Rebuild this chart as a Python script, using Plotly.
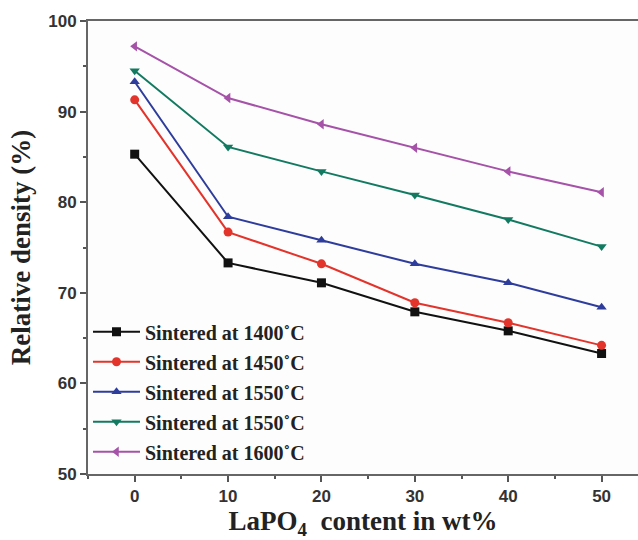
import plotly.graph_objects as go

x_content = [0, 10, 20, 30, 40, 50]
d1400 = [85.3, 73.3, 71.1, 67.9, 65.8, 63.3]
d1450 = [91.3, 76.7, 73.2, 68.9, 66.7, 64.2]
d1550a = [93.3, 78.4, 75.8, 73.2, 71.1, 68.4]
d1550b = [94.5, 86.1, 83.4, 80.8, 78.1, 75.1]
d1600 = [97.2, 91.5, 88.6, 86.0, 83.4, 81.1]

names = ["Sintered at 1400˚C", "Sintered at 1450˚C", "Sintered at 1550˚C",
         "Sintered at 1550˚C", "Sintered at 1600˚C"]
series = [d1400, d1450, d1550a, d1550b, d1600]
colors = ["#111111", "#e3342b", "#2e3d9c", "#127a60", "#a552a8"]
symbols = ["square", "circle", "triangle-up", "triangle-down", "triangle-left"]

fig = go.Figure()
for i, (n, s, c, m) in enumerate(zip(names, series, colors, symbols)):
    fig.add_trace(go.Scatter(
        x=x_content, y=s, name=n, mode="lines+markers",
        legendgroup=f"g{i}",
        line=dict(color=c, width=2),
        marker=dict(symbol=m, size=9, color=c),
    ))

axis_font = dict(family="Liberation Sans, Arial", size=17, color="#333333", weight="bold")
title_font = dict(family="Liberation Serif, Times New Roman", size=27, color="#222222", weight="bold")

fig.update_layout(
    width=638, height=540,
    margin=dict(l=88, r=0, t=21, b=66),
    paper_bgcolor="white", plot_bgcolor="#fdfdfd",
    showlegend=True,
    legend=dict(
        x=0.0, y=0.357, xanchor="left", yanchor="top",
        bgcolor="rgba(0,0,0,0)", borderwidth=0,
        font=dict(family="Liberation Serif, Times New Roman", size=20, color="#222222", weight="bold"),
        tracegroupgap=1, itemwidth=47,
    ),
    xaxis=dict(
        range=[-5, 53.9], tickvals=x_content, ticks="outside", ticklen=6, tickwidth=1.5,
        tickcolor="#555555", showline=True, linecolor="#666666", linewidth=2, mirror=True,
        showgrid=False, zeroline=False, tickfont=axis_font, automargin=False,
        minor=dict(dtick=5, ticks="outside", ticklen=3, tickcolor="#555555", showgrid=False),
        title=dict(text="LaPO<sub>4</sub>  content in wt%", font=title_font, standoff=24),
    ),
    yaxis=dict(
        range=[50, 100], dtick=10, ticks="outside", ticklen=6, tickwidth=1.5,
        tickcolor="#555555", showline=True, linecolor="#666666", linewidth=2, mirror=False,
        showgrid=False, zeroline=False, tickfont=axis_font, automargin=False,
        minor=dict(dtick=5, ticks="outside", ticklen=3, tickcolor="#555555", showgrid=False),
        title=dict(text="Relative density (%)", font=title_font, standoff=10),
    ),
)

fig.write_html("out.html")
